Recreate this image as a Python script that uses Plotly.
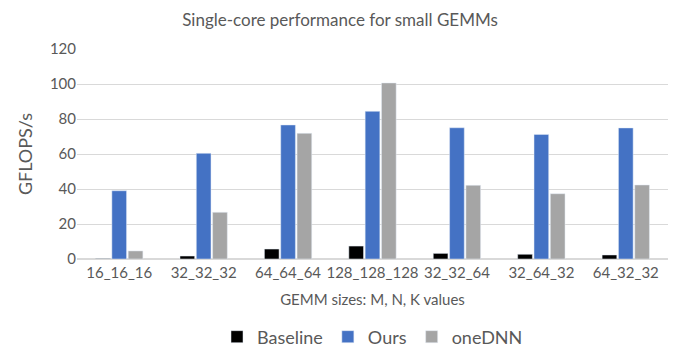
import plotly.graph_objects as go

sizes = ["16_16_16", "32_32_32", "64_64_64", "128_128_128", "32_32_64", "32_64_32", "64_32_32"]
baseline = [0.2, 1.7, 5.7, 7.4, 3.2, 2.7, 2.3]
ours = [39.0, 60.4, 76.6, 84.4, 75.0, 71.2, 74.9]
onednn = [4.6, 26.7, 71.8, 100.6, 42.1, 37.3, 42.3]

font = "Lato, Carlito, Calibri, sans-serif"
grey = "#595959"

fig = go.Figure()
fig.add_bar(x=sizes, y=baseline, name="Baseline", marker_color="#000000")
fig.add_bar(x=sizes, y=ours, name="Ours", marker_color="#4472C4")
fig.add_bar(x=sizes, y=onednn, name="oneDNN", marker_color="#A5A5A5")

fig.update_layout(
    width=680, height=360,
    margin=dict(l=77, r=12, t=49, b=101, autoexpand=False),
    paper_bgcolor="white", plot_bgcolor="white",
    font=dict(family=font, color=grey, size=12),
    title=dict(text="Single-core performance for small GEMMs", x=0.5, xanchor="center",
               y=0.945, yanchor="middle", font=dict(size=17, color=grey)),
    barmode="group", bargap=0.42, bargroupgap=0.1,
    showlegend=True,
    legend=dict(orientation="h", x=0.5, xanchor="center", yref="container", y=0.064,
                yanchor="middle", font=dict(size=18, color=grey), itemwidth=30,
                tracegroupgap=0),
    xaxis=dict(title=dict(text="GEMM sizes: M, N, K values", font=dict(size=15, color=grey), standoff=14),
               tickfont=dict(size=15, color=grey), showline=True, linecolor="#D9D9D9",
               ticks="", showgrid=False, automargin=False),
    yaxis=dict(title=dict(text="GFLOPS/s", font=dict(size=18, color=grey), standoff=12),
               range=[0, 120], dtick=20, tickfont=dict(size=15, color=grey),
               gridcolor="#D9D9D9", zeroline=True, zerolinecolor="#D9D9D9", ticks="",
               ticklen=0, automargin=False),
)

# drop the browser's default 8px page margin so the chart sits at the window corner
fig.write_html("out.html", config={"displayModeBar": False},
               post_script="document.body.style.margin='0';")
